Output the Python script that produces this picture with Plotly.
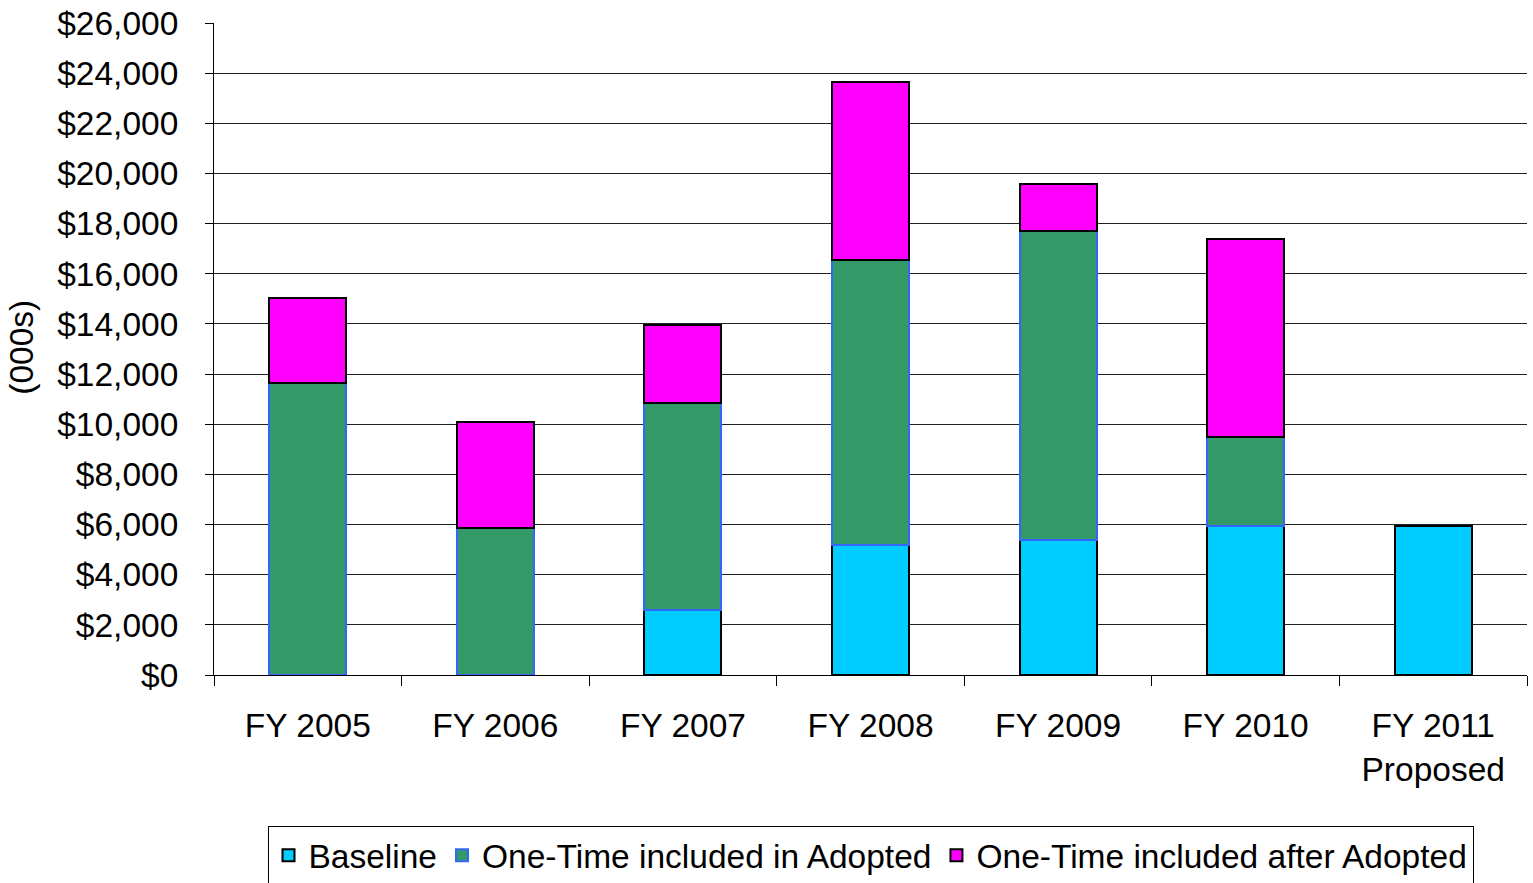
import plotly.graph_objects as go

categories = ["FY 2005", "FY 2006", "FY 2007", "FY 2008", "FY 2009", "FY 2010", "FY 2011<br>Proposed"]
baseline = [None, None, 2590, 5180, 5380, 5940, 5940]
one_time_adopted = [11650, 5860, 8260, 11370, 12320, 3550, None]
one_time_after = [3380, 4230, 3110, 7090, 1880, 7890, None]
y_ticks = list(range(0, 26001, 2000))
y_tick_labels = ["${:,}".format(v) for v in y_ticks]

FONT = "Liberation Sans, Arial, sans-serif"
FS = 33.5

fig = go.Figure()
fig.add_trace(go.Bar(name="Baseline", x=categories, y=baseline,
                     marker=dict(color="#00CCFF", line=dict(color="#000000", width=2))))
fig.add_trace(go.Bar(name="One-Time included in Adopted", x=categories, y=one_time_adopted,
                     marker=dict(color="#339966", line=dict(color="#3366FF", width=2))))
fig.add_trace(go.Bar(name="One-Time included after Adopted", x=categories, y=one_time_after,
                     marker=dict(color="#FF00FF", line=dict(color="#000000", width=2))))

fig.update_layout(
    barmode="stack",
    bargap=0.59,
    width=1533, height=883,
    margin=dict(l=214, r=6, t=23, b=208, autoexpand=False),
    paper_bgcolor="white", plot_bgcolor="white",
    font=dict(family=FONT, size=FS, color="black"),
    showlegend=True,
    legend=dict(orientation="h", x=0.5, xanchor="center", y=-0.2316, yanchor="top",
                bordercolor="black", borderwidth=1, font=dict(size=FS, family=FONT),
                traceorder="normal", itemwidth=30),
    xaxis=dict(type="category", showline=True, linecolor="black", linewidth=1,
               ticks="outside", tickson="boundaries", ticklen=10, tickcolor="black",
               showgrid=False, ticklabelstandoff=21, tickfont=dict(size=FS),
               automargin=False),
    yaxis=dict(range=[0, 26000], tickvals=y_ticks, ticktext=y_tick_labels,
               showline=True, linecolor="black", linewidth=1,
               ticks="outside", ticklen=8, tickcolor="black",
               showgrid=True, gridcolor="#222222", gridwidth=1,
               zeroline=False, ticklabelstandoff=20, tickfont=dict(size=FS),
               automargin=False),
    annotations=[dict(text="(000s)", textangle=-90, xref="paper", yref="paper",
                      x=-0.1462, y=0.502, xanchor="center", yanchor="middle",
                      showarrow=False, font=dict(size=FS, family=FONT))],
)

fig.write_html("out.html")
